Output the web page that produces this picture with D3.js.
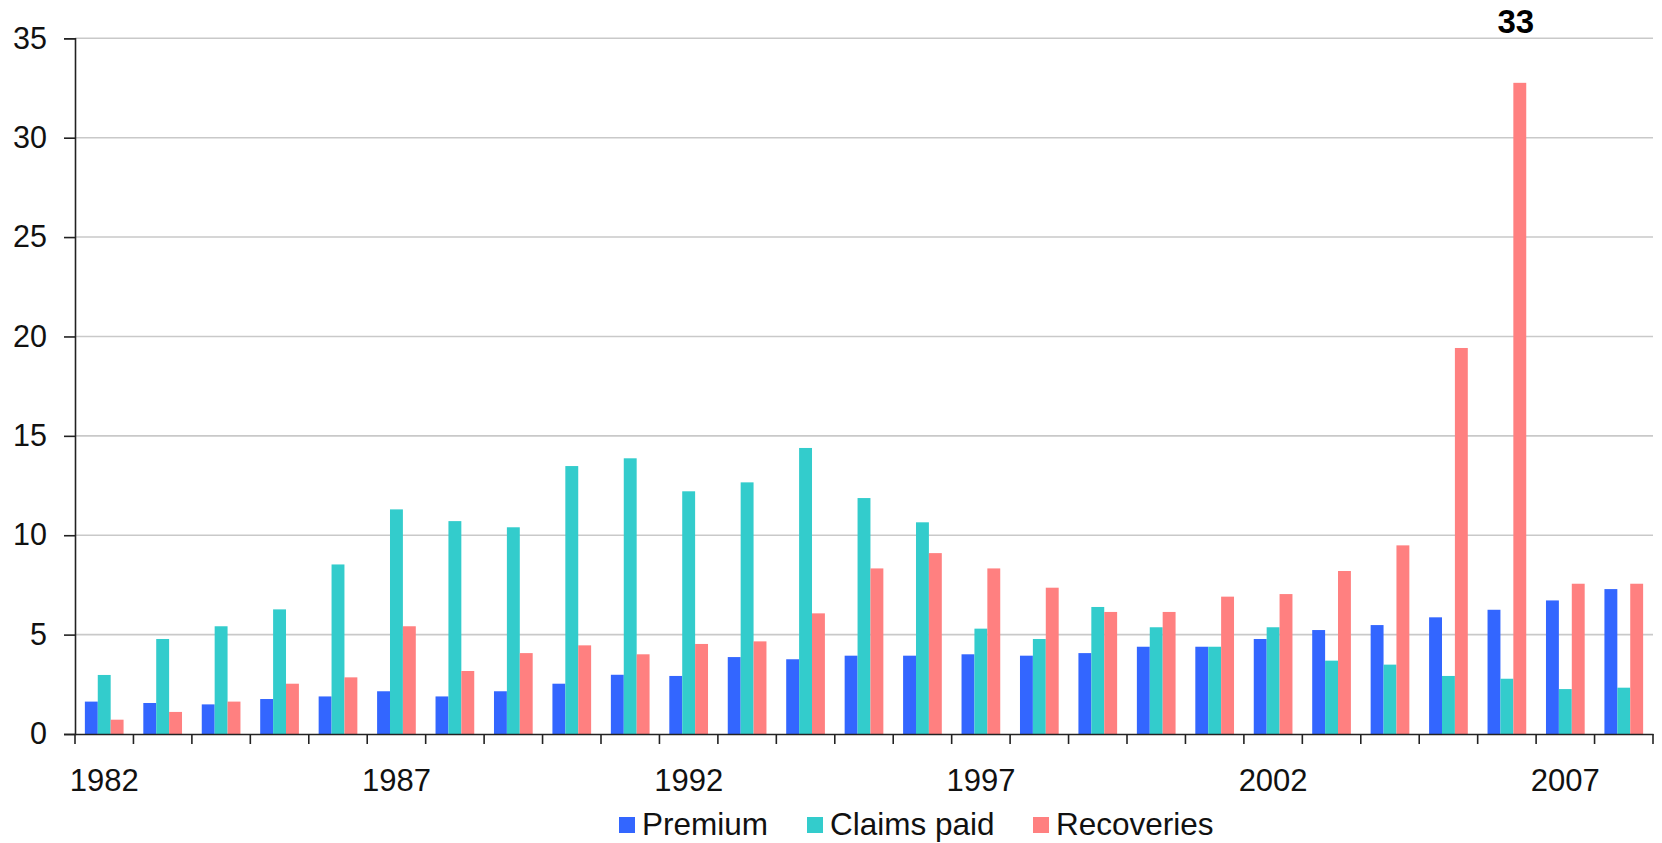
<!DOCTYPE html>
<html>
<head>
<meta charset="utf-8">
<script src="https://cdn.jsdelivr.net/npm/d3@7"></script>
<style>
  html, body { margin: 0; padding: 0; background: #ffffff; }
  svg { display: block; font-family: "Liberation Sans", Arial, sans-serif; }
</style>
</head>
<body>
<svg id="chart" width="1662" height="843"></svg>
<script>
// Annual figures, 1982–2008
const years = d3.range(1982, 2009).map(String);
const seriesNames = ["Premium", "Claims paid", "Recoveries"];
const seriesColors = ["#3366FF", "#33CCCC", "#FF8080"];

const premium = [1.63, 1.56, 1.49, 1.76, 1.89, 2.15, 1.89, 2.15, 2.53, 2.98,
                 2.92, 3.87, 3.76, 3.94, 3.94, 4.01, 3.94, 4.07, 4.39, 4.39,
                 4.78, 5.23, 5.48, 5.87, 6.25, 6.72, 7.29];
const claimsPaid = [2.97, 4.78, 5.42, 6.27, 8.53, 11.30, 10.71, 10.40, 13.48, 13.87,
                    12.21, 12.66, 14.39, 11.87, 10.65, 5.30, 4.78, 6.39, 5.37, 4.39,
                    5.37, 3.69, 3.49, 2.92, 2.78, 2.26, 2.33];
const recoveries = [0.72, 1.11, 1.63, 2.53, 2.85, 5.42, 3.17, 4.07, 4.46, 4.01,
                    4.53, 4.66, 6.07, 8.33, 9.10, 8.33, 7.36, 6.14, 6.14, 6.91,
                    7.04, 8.20, 9.49, 19.42, 32.76, 7.56, 7.56];

const yTicks = [0, 5, 10, 15, 20, 25, 30, 35];
const xLabelYears = ["1982", "1987", "1992", "1997", "2002", "2007"];

// Callout on the tallest bar
const callout = { year: "2006", series: "Recoveries", text: "33" };

const seriesValues = [premium, claimsPaid, recoveries];
const rows = years.map((yr, i) => ({
  year: yr,
  values: seriesNames.map((s, k) => ({ series: s, value: seriesValues[k][i] }))
}));

const svg = d3.select("#chart");
const plotLeft = 75, plotRight = 1653, plotTop = 38.3, plotBottom = 734;

const x = d3.scaleBand().domain(years).range([plotLeft, plotRight]).paddingInner(0).paddingOuter(0);
const x1 = d3.scaleBand().domain(seriesNames).range([0, x.bandwidth()])
  .paddingInner(0).paddingOuter(0.765);
const y = d3.scaleLinear().domain([0, 35]).range([plotBottom, plotTop]);
const color = d3.scaleOrdinal().domain(seriesNames).range(seriesColors);

// Horizontal gridlines
svg.append("g")
  .selectAll("line")
  .data(yTicks.filter(t => t > 0))
  .join("line")
  .attr("x1", plotLeft).attr("x2", plotRight)
  .attr("y1", d => y(d)).attr("y2", d => y(d))
  .attr("stroke", "#c9c9c9")
  .attr("stroke-width", 1.6);

// Bars
svg.append("g")
  .selectAll("g")
  .data(rows)
  .join("g")
  .attr("transform", d => `translate(${x(d.year)},0)`)
  .selectAll("rect")
  .data(d => d.values)
  .join("rect")
  .attr("x", d => x1(d.series))
  .attr("width", x1.bandwidth())
  .attr("y", d => y(d.value))
  .attr("height", d => y(0) - y(d.value))
  .attr("fill", d => color(d.series));

// Y axis
const yAxis = svg.append("g")
  .attr("transform", `translate(${plotLeft},0)`)
  .call(d3.axisLeft(y).tickValues(yTicks).tickSize(11).tickPadding(17).tickFormat(d3.format("d")));
yAxis.select(".domain").attr("stroke", "#222").attr("stroke-width", 1.6);
yAxis.selectAll(".tick line").attr("stroke", "#222").attr("stroke-width", 1.6);
yAxis.selectAll("text").attr("font-size", 30.5).attr("fill", "#111")
  .attr("font-family", "'Liberation Sans', Arial, sans-serif");

// X axis: boundary ticks between year groups
const boundaries = years.map(yr => x(yr)).concat([plotRight]);
svg.append("g")
  .selectAll("line")
  .data(boundaries)
  .join("line")
  .attr("x1", d => d).attr("x2", d => d)
  .attr("y1", plotBottom).attr("y2", plotBottom + 10)
  .attr("stroke", "#222")
  .attr("stroke-width", 1.6);

const xAxis = svg.append("g")
  .attr("transform", `translate(0,${plotBottom})`)
  .call(d3.axisBottom(x).tickValues(xLabelYears).tickSize(0).tickPadding(35));
xAxis.select(".domain").attr("stroke", "#222").attr("stroke-width", 1.6);
xAxis.selectAll("text").attr("font-size", 31).attr("fill", "#111")
  .attr("font-family", "'Liberation Sans', Arial, sans-serif");

// Value callout
svg.append("text")
  .attr("x", x(callout.year) + x1(callout.series) + x1.bandwidth() / 2 - 4)
  .attr("y", 33)
  .attr("text-anchor", "middle")
  .attr("font-size", 33)
  .attr("font-weight", "bold")
  .attr("fill", "#000")
  .text(callout.text);

// Legend
const legendItems = [
  { name: "Premium", sx: 619 },
  { name: "Claims paid", sx: 807 },
  { name: "Recoveries", sx: 1033 }
];
const legend = svg.append("g");
legend.selectAll("rect")
  .data(legendItems)
  .join("rect")
  .attr("x", d => d.sx).attr("y", 817)
  .attr("width", 16).attr("height", 16)
  .attr("fill", d => color(d.name));
legend.selectAll("text")
  .data(legendItems)
  .join("text")
  .attr("x", d => d.sx + 23).attr("y", 835)
  .attr("font-size", 31.5)
  .attr("fill", "#111")
  .text(d => d.name);
</script>
</body>
</html>
